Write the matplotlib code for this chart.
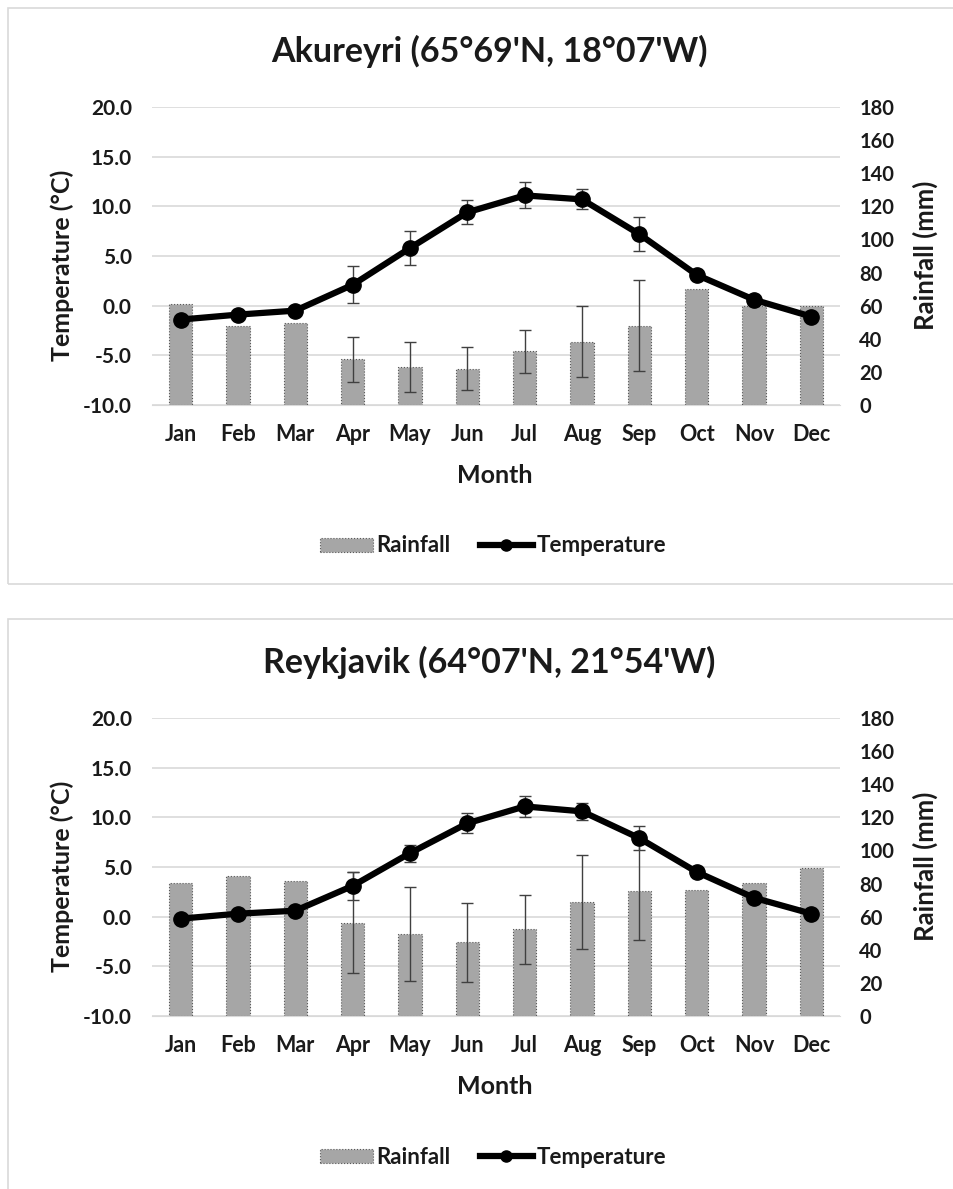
import numpy as np
import matplotlib
matplotlib.use("Agg")
import matplotlib.pyplot as plt
from matplotlib.patches import Rectangle, Patch
from matplotlib.lines import Line2D

months = ['Jan', 'Feb', 'Mar', 'Apr', 'May', 'Jun', 'Jul', 'Aug', 'Sep', 'Oct', 'Nov', 'Dec']

aku_title = "Akureyri (65°69'N, 18°07'W)"
aku_temp = [-1.4, -0.9, -0.5, 2.1, 5.8, 9.4, 11.1, 10.7, 7.2, 3.1, 0.6, -1.1]
aku_temp_err = [0, 0, 0, 1.85, 1.7, 1.2, 1.3, 1.0, 1.7, 0, 0, 0]
aku_rain = [61.2, 47.8, 49.8, 27.6, 23.0, 22.0, 32.4, 38.2, 47.8, 70.0, 59.6, 59.6]
aku_rain_err = [0, 0, 0, 13.6, 15.0, 13.1, 13.2, 21.5, 27.5, 0, 0, 0]

rey_title = "Reykjavik (64°07'N, 21°54'W)"
rey_temp = [-0.2, 0.3, 0.6, 3.1, 6.4, 9.4, 11.1, 10.6, 7.9, 4.5, 1.9, 0.3]
rey_temp_err = [0, 0, 0, 1.4, 0.85, 1.0, 1.05, 0.85, 1.2, 0, 0, 0]
rey_rain = [80.4, 84.3, 81.3, 56.3, 49.5, 44.5, 52.3, 68.8, 75.4, 76.4, 80.4, 89.1]
rey_rain_err = [0, 0, 0, 30.6, 28.6, 23.7, 20.8, 28.6, 29.5, 0, 0, 0]

temp_ticks = [-10, -5, 0, 5, 10, 15, 20]
rain_ticks = [0, 20, 40, 60, 80, 100, 120, 140, 160, 180]

W, H = 954, 1189
FONT = 'Lato'
TXT = '#1a1a1a'
plt.rcParams['font.family'] = [FONT, 'DejaVu Sans']
plt.rcParams['font.weight'] = 'bold'

fig = plt.figure(figsize=(W / 100, H / 100), dpi=100)


def fx(px):
    return px / W


def fy(py):
    return 1 - py / H


def draw(off, title, temp, temp_err, rain, rain_err, panel_bottom):
    fig.patches.append(Rectangle((fx(8), fy(panel_bottom)), fx(960) - fx(8),
                                 fy(8 + off) - fy(panel_bottom), transform=fig.transFigure,
                                 fill=False, edgecolor='#d9d9d9', lw=1.2))
    left, right, top, bot = 152, 840, 107 + off, 405 + off
    ax = fig.add_axes([fx(left), fy(bot), fx(right) - fx(left), fy(top) - fy(bot)])
    ax2 = ax.twinx()
    ax3 = ax.twinx()
    x = np.arange(len(months))

    ax.set_ylim(-10, 20)
    ax.set_yticks(temp_ticks)
    ax.set_yticklabels([f"{t:.1f}" for t in temp_ticks], fontsize=15, fontweight='bold', color=TXT)
    ax.yaxis.grid(True, color='#d9d9d9', lw=1.2)
    ax.set_axisbelow(True)
    ax.set_xlim(-0.5, len(months) - 0.5)
    ax.set_xticks(x)
    ax.set_xticklabels(months, fontsize=15.5, fontweight='bold', color=TXT)
    ax.tick_params(axis='y', length=0, pad=14.5)
    ax.tick_params(axis='x', length=0, pad=14)
    for s in ax.spines.values():
        s.set_visible(False)
    ax.spines['bottom'].set_visible(True)
    ax.spines['bottom'].set_color('#d9d9d9')

    fig.text(fx(62), fy(265 + off), 'Temperature (°C)', rotation=90, ha='center', va='center',
             fontsize=18, fontweight='bold', color=TXT)
    fig.text(fx(495), fy(476 + off), 'Month', ha='center', va='center',
             fontsize=18, fontweight='bold', color=TXT)
    fig.text(fx(489), fy(51 + off), title, ha='center', va='center',
             fontsize=24.5, fontweight='bold', color=TXT)
    fig.text(fx(925), fy(255 + off), 'Rainfall (mm)', rotation=90, ha='center', va='center',
             fontsize=18.5, fontweight='bold', color=TXT)

    ax2.set_ylim(0, 180)
    ax2.set_yticks(rain_ticks)
    ax2.set_yticklabels([str(r) for r in rain_ticks], fontsize=14.5, fontweight='bold', color=TXT)
    ax2.tick_params(axis='y', length=0, pad=14)
    for s in ax2.spines.values():
        s.set_visible(False)
    ax2.bar(x, rain, width=0.41, color='#a6a6a6', edgecolor='#595959', lw=0.8, linestyle=':', zorder=2)
    rr = np.array(rain_err)
    m = rr > 0
    ax2.errorbar(x[m], np.array(rain)[m], yerr=rr[m], fmt='none', ecolor='#404040',
                 elinewidth=1, capsize=4, capthick=1, zorder=3)

    ax3.set_ylim(-10, 20)
    ax3.set_yticks([])
    for s in ax3.spines.values():
        s.set_visible(False)
    tt = np.array(temp_err)
    mt = tt > 0
    ax3.errorbar(x[mt], np.array(temp)[mt], yerr=tt[mt], fmt='none', ecolor='#404040',
                 elinewidth=1, capsize=4, capthick=1, zorder=2)
    ax3.plot(x, temp, color='black', lw=4.5, marker='o', ms=11, zorder=3)

    handles = [Patch(facecolor='#a6a6a6', edgecolor='#595959', linestyle=':', lw=0.8),
               Line2D([], [], color='black', lw=4.5, marker='o', ms=8)]
    fig.legend(handles, ['Rainfall', 'Temperature'], loc='center',
               bbox_to_anchor=(fx(493), fy(546 + off)), ncol=2, frameon=False,
               prop={'family': FONT, 'weight': 'bold', 'size': 16}, handlelength=2.4,
               handleheight=0.6, handletextpad=0.15, columnspacing=1.3, labelcolor=TXT)


draw(0, aku_title, aku_temp, aku_temp_err, aku_rain, aku_rain_err, 584)
draw(611, rey_title, rey_temp, rey_temp_err, rey_rain, rey_rain_err, 1200)

fig.savefig('out.png', dpi=100, facecolor='white')
